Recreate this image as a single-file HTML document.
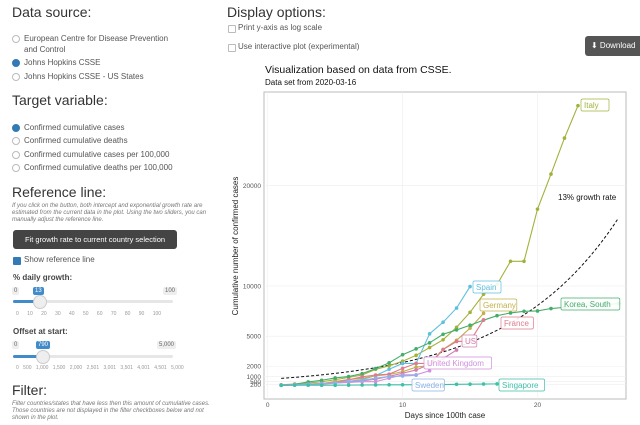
<!DOCTYPE html>
<html><head><meta charset="utf-8"><style>
body{margin:0;width:640px;height:425px;overflow:hidden;background:#fff;font-family:"Liberation Sans",sans-serif;color:#333;position:relative}
.a{position:absolute;white-space:nowrap}
.h{font-size:14px;color:#333;line-height:16px}
.s{font-size:8px;color:#555;line-height:10px}
.it{font-size:6px;font-style:italic;color:#777;line-height:7px;white-space:normal;width:205px}
.rad{position:absolute;width:6px;height:6px;border:1px solid #bbb;border-radius:50%}
.rad.on{background:#337ab7;border-color:#337ab7}
.cb{position:absolute;width:6px;height:6px;border:1px solid #bbb;border-radius:1px}
.cb.on{background:#337ab7;border-color:#337ab7}
.badge{position:absolute;background:#428bca;color:#fff;font-size:6px;padding:1px 2px;border-radius:2px}
.num{position:absolute;font-size:6px;color:#666;background:#eee;padding:1px 2px;border-radius:2px}
</style></head><body>
<div class="a h" style="left:12px;top:4px">Data source:</div>
<div class="rad" style="left:12px;top:35px"></div>
<div class="a s" style="left:24px;top:34px">European Centre for Disease Prevention</div>
<div class="a s" style="left:24px;top:45px">and Control</div>
<div class="rad on" style="left:12px;top:59px"></div>
<div class="a s" style="left:24px;top:58px">Johns Hopkins CSSE</div>
<div class="rad" style="left:12px;top:73px"></div>
<div class="a s" style="left:24px;top:72px">Johns Hopkins CSSE - US States</div>

<div class="a h" style="left:12px;top:92px">Target variable:</div>
<div class="rad on" style="left:12px;top:124px"></div>
<div class="a s" style="left:24px;top:123px">Confirmed cumulative cases</div>
<div class="rad" style="left:12px;top:137px"></div>
<div class="a s" style="left:24px;top:136px">Confirmed cumulative deaths</div>
<div class="rad" style="left:12px;top:151px"></div>
<div class="a s" style="left:24px;top:150px">Confirmed cumulative cases per 100,000</div>
<div class="rad" style="left:12px;top:164px"></div>
<div class="a s" style="left:24px;top:163px">Confirmed cumulative deaths per 100,000</div>

<div class="a h" style="left:12px;top:184px">Reference line:</div>
<div class="a it" style="left:12px;top:203px">If you click on the button, both intercept and exponential growth rate are estimated from the current data in the plot. Using the two sliders, you can manually adjust the reference line.</div>
<div class="a" style="left:13px;top:230px;width:164px;height:19px;background:#444;border-radius:3px;color:#fff;font-size:7.5px;line-height:19px;text-align:center">Fit growth rate to current country selection</div>
<div class="cb on" style="left:13px;top:257px"></div>
<div class="a s" style="left:24px;top:255px">Show reference line</div>
<div class="a" style="left:13px;top:273px;font-size:8px;font-weight:bold;color:#444">% daily growth:</div>
<div class="num" style="left:12px;top:287px">0</div>
<div class="badge" style="left:33px;top:287px">13</div>
<div class="num" style="left:163px;top:287px">100</div>
<div class="a" style="left:13px;top:300px;width:160px;height:3px;background:#e6e6e6;border-radius:2px"></div>
<div class="a" style="left:13px;top:300px;width:26px;height:3px;background:#428bca;border-radius:2px"></div>
<div class="a" style="left:33px;top:295px;width:12px;height:12px;border-radius:50%;background:#eee;border:1px solid #ccc"></div>
<div class="a" style="left:16px;top:311px;font-size:5px;color:#999;word-spacing:7px">0 10 20 30 40 50 60 70 80 90 100</div>
<div class="a" style="left:13px;top:327px;font-size:8px;font-weight:bold;color:#444">Offset at start:</div>
<div class="num" style="left:12px;top:341px">0</div>
<div class="badge" style="left:36px;top:341px">790</div>
<div class="num" style="left:157px;top:341px">5,000</div>
<div class="a" style="left:13px;top:355px;width:160px;height:3px;background:#e6e6e6;border-radius:2px"></div>
<div class="a" style="left:13px;top:355px;width:29px;height:3px;background:#428bca;border-radius:2px"></div>
<div class="a" style="left:36px;top:350px;width:12px;height:12px;border-radius:50%;background:#eee;border:1px solid #ccc"></div>
<div class="a" style="left:16px;top:365px;font-size:5px;color:#999;word-spacing:3px">0 500 1,000 1,500 2,000 2,501 3,001 3,501 4,001 4,501 5,000</div>
<div class="a h" style="left:12px;top:382px">Filter:</div>
<div class="a it" style="left:12px;top:401px">Filter countries/states that have less then this amount of cumulative cases. Those countries are not displayed in the filter checkboxes below and not shown in the plot.</div>

<div class="a h" style="left:227px;top:4px">Display options:</div>
<div class="cb" style="left:228px;top:25px"></div>
<div class="a s" style="left:238px;top:23px">Print y-axis as log scale</div>
<div class="cb" style="left:228px;top:44px"></div>
<div class="a s" style="left:238px;top:42px">Use interactive plot (experimental)</div>
<div class="a" style="left:585px;top:36px;width:60px;height:20px;background:#555;border-radius:3px;color:#fff;font-size:8px;line-height:20px;padding-left:6px">⬇ Download</div>

<svg class="a" style="left:0;top:0" width="640" height="425" id="chart"></svg>
<script>
const countries=["Italy","Spain","Germany","Korea, South","France","US","United Kingdom","Sweden","Singapore"];
const italy=[155,229,322,453,655,888,1128,1694,2036,2502,3089,3858,4636,5883,7375,9172,10149,12462,12462,17660,21157,24747,27980];
const spain=[120,165,222,259,400,500,673,1073,1695,2277,2277,5232,6391,7798,9942];
const germany=[130,159,196,262,482,670,799,1040,1176,1457,1908,2078,3675,4585,5795,7272];
const korea=[104,204,433,602,833,977,1261,1766,2337,3150,3736,4335,5186,5621,6088,6593,7041,7314,7478,7513,7755,7869,7979,8086,8162,8236];
const france=[130,191,204,285,377,653,949,1126,1209,1784,2281,2281,3661,4469,4499,6633];
const us=[100,124,158,221,319,435,541,704,994,1301,1630,2183,2770,3613];
const uk=[116,164,207,274,322,384,459,459,802,1144,1145,1551];
const sweden=[101,161,203,248,355,500,599,814,961,1022,1103];
const singapore=[102,106,108,110,110,117,130,138,150,150,160,178,178,200,212,226,243];
const series=[italy,spain,germany,korea,france,us,uk,sweden,singapore];
const colors=["#a3b13a","#5fbfdf","#c2b04a","#43ad6a","#e07a8f","#d27cb0","#cf90dc","#8fb1e8","#3dbfa8"];
const xTicks=[0,10,20];
const yTicks=[200,500,1000,2000,5000,10000,20000];
const growthRate=0.13, offset=790, refDays=26;
const labelPos=[[583,105],[475,287],[482,305],[563,304],[503,323],[464,341],[426,363],[414,385],[501,385]];

const X0=264,X1=626,Y0=92,Y1=399;
const sx=d=>267.7+d*13.49;
const sy=v=>386.3-v*0.01003;
const svg=document.getElementById('chart');
const NS="http://www.w3.org/2000/svg";
function mk(t,a){const e=document.createElementNS(NS,t);for(const k in a)e.setAttribute(k,a[k]);svg.appendChild(e);return e;}
let e;
e=mk('rect',{x:X0,y:Y0,width:X1-X0,height:Y1-Y0,fill:'#fff',stroke:'#bbb','stroke-width':1});


yTicks.forEach(v=>{
 e=mk('line',{x1:X0,x2:X1,y1:sy(v),y2:sy(v),stroke:'#eee','stroke-width':0.6});
 
 
 e=mk('text',{x:X0-3,y:sy(v)+2.5,'text-anchor':'end','font-size':6.5,fill:'#555'});e.textContent=v;
 
 
});
xTicks.forEach(d=>{
 e=mk('line',{x1:sx(d),x2:sx(d),y1:Y0,y2:Y1,stroke:'#eee','stroke-width':0.6});
 
 
 e=mk('text',{x:sx(d),y:Y1+8,'text-anchor':'middle','font-size':6.5,fill:'#555'});e.textContent=d;
 
 
});
e=mk('text',{x:265,y:73,'font-size':10.5,fill:'#111'});e.textContent='Visualization based on data from CSSE.';


e=mk('text',{x:265,y:85,'font-size':8,fill:'#111'});e.textContent='Data set from 2020-03-16';


e=mk('text',{x:(X0+X1)/2,y:418,'text-anchor':'middle','font-size':8,fill:'#222'});e.textContent='Days since 100th case';


e=mk('text',{x:0,y:0,'text-anchor':'middle','font-size':8,fill:'#222',transform:'translate(238,246) rotate(-90)'});e.textContent='Cumulative number of confirmed cases';


let pts=[];for(let d=1;d<=refDays;d+=0.25)pts.push(sx(d)+','+sy(offset*Math.pow(1+growthRate,d-1)));
e=mk('polyline',{points:pts.join(' '),fill:'none',stroke:'#111','stroke-width':1,'stroke-dasharray':'3,2'});


e=mk('text',{x:558,y:200,'font-size':8,fill:'#111'});e.textContent=Math.round(growthRate*100)+'% growth rate';


series.forEach((s,i)=>{
 e=mk('polyline',{points:s.map((v,j)=>sx(j+1)+','+sy(v)).join(' '),fill:'none',stroke:colors[i],'stroke-width':1.1});
 
 
 s.forEach((v,j)=>{
  e=mk('circle',{cx:sx(j+1),cy:sy(v),r:1.8,fill:colors[i]});
  
  
 });
});
countries.forEach((c,i)=>{
 const [lx,ly]=labelPos[i];const w=c.length*4.4+6;
 e=mk('rect',{x:lx-2,y:ly-6,width:w,height:12,rx:1.5,fill:'#fff','fill-opacity':0.9,stroke:colors[i],'stroke-width':0.7});
 
 
 e=mk('text',{x:lx+1,y:ly+3,'font-size':8,fill:colors[i]});e.textContent=c;
 
 
});
</script>
</body></html>
